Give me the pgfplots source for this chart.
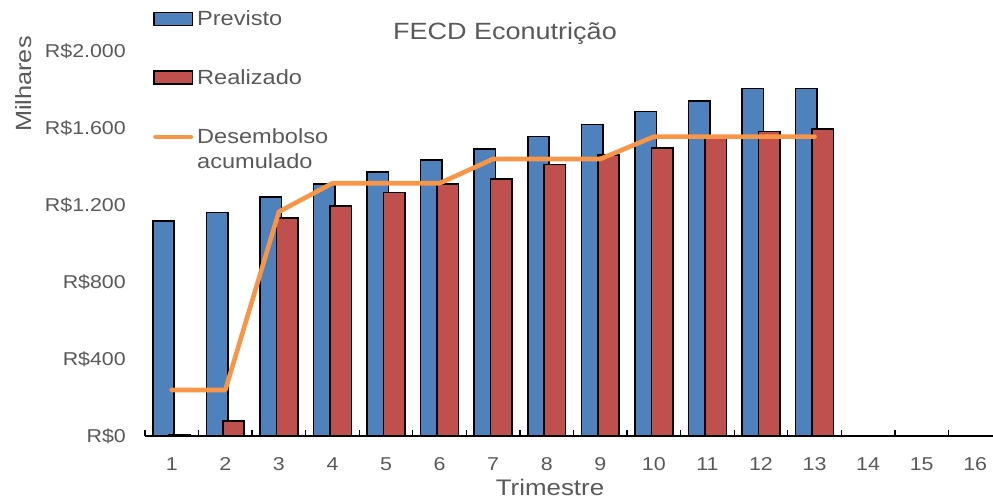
\documentclass[border=0pt]{standalone}
\usepackage{fontspec}
\setmainfont{Liberation Sans}[FakeStretch=1.15]
\usepackage{pgfplots}
\pgfplotsset{compat=1.18}
\definecolor{pblue}{HTML}{4F81BD}
\definecolor{pred}{HTML}{C0504D}
\definecolor{porange}{HTML}{F79646}
\definecolor{txt}{HTML}{595959}
\begin{document}
\begin{tikzpicture}
\begin{axis}[
  name=ax,
  scale only axis,
  width=857bp, height=385bp,
  xmin=0.5, xmax=16.5, ymin=0, ymax=2000,
  axis x line*=bottom, axis y line*=left,
  y axis line style={draw=none},
  x axis line style={black, line width=1.3bp},
  xtick={1,...,16},
  major tick length=0pt,
  extra x ticks={0.5,1.5,...,16.5},
  extra x tick labels={},
  extra x tick style={major tick length=6bp, tick align=inside, tick style={black, line width=1.3bp}},
  ytick={0,400,800,1200,1600,2000},
  yticklabels={R\$0,R\$400,R\$800,R\$1.200,R\$1.600,R\$2.000},
  /pgf/number format/assume math mode=true,
  tick label style={font=\fontsize{18.6bp}{22bp}\selectfont, text=txt, inner sep=0pt},
  y tick label style={anchor=base east, xshift=-19bp, yshift=-6.66bp},
  x tick label style={anchor=base, yshift=-34bp},
  xlabel={Trimestre},
  xlabel style={at={(0.4726,0)}, anchor=base, yshift=-59bp, font=\fontsize{22.5bp}{26bp}\selectfont, text=txt, inner sep=0pt},
  ylabel={Milhares},
  ylabel style={at={(-0.1330,0.914)}, anchor=base, font=\fontsize{22bp}{26bp}\selectfont, text=txt, inner sep=0pt},
  title={FECD Econutrição},
  title style={at={(0.42,1)}, anchor=base, yshift=6bp, font=\fontsize{23.5bp}{28bp}\selectfont, text=txt, inner sep=0pt},
  legend cell align=left,
  legend style={draw=none, fill=none, at={(0.0093,1.105)}, anchor=north west,
    inner sep=0pt, row sep=42.5bp, column sep=4bp,
    font=\fontsize{20.5bp}{25bp}\selectfont, text=txt,
    cells={align=left}, nodes={inner sep=0pt}},
  clip=false,
]
\addplot[ybar, bar width=0.4, bar shift=-0.153, fill=pblue, draw=black, line width=1.6bp,
  legend image code/.code={\draw[fill=pblue, draw=black, line width=1.6bp] (0.8bp,-6.5bp) rectangle (39.2bp,6.5bp);}]
  coordinates {(1,1118) (2,1162) (3,1243) (4,1308) (5,1370) (6,1434) (7,1491) (8,1555) (9,1619) (10,1685) (11,1740) (12,1806) (13,1806)};
\addlegendentry{Previsto}
\addplot[ybar, bar width=0.4, bar shift=0.153, fill=pred, draw=black, line width=1.6bp,
  legend image code/.code={\draw[fill=pred, draw=black, line width=1.6bp] (0.8bp,-6.5bp) rectangle (39.2bp,6.5bp);}]
  coordinates {(1,8) (2,79) (3,1134) (4,1195) (5,1264) (6,1309) (7,1335) (8,1411) (9,1460) (10,1496) (11,1552) (12,1581) (13,1595)};
\addlegendentry{Realizado}
\addplot[porange, line width=4.6bp, line join=round, line cap=round, mark=none,
  legend image code/.code={\draw[porange, line width=4.6bp, line cap=round] (2.3bp,12.3bp) -- (37.7bp,12.3bp);}]
  coordinates {(1,239) (2,239) (3,1165) (4,1313) (5,1313) (6,1313) (7,1439) (8,1439) (9,1439) (10,1555) (11,1555) (12,1555) (13,1555)};
\addlegendentry{Desembolso\\acumulado}
\end{axis}
\pgfresetboundingbox
\path[use as bounding box] (ax.south west) ++(-145bp,-63bp) rectangle ++(993bp,499bp);
\end{tikzpicture}
\end{document}
